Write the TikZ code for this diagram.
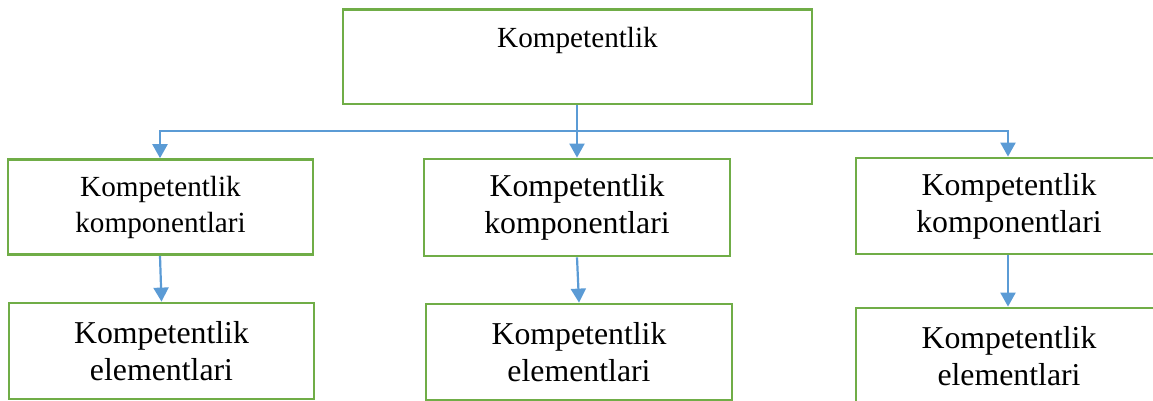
\documentclass[tikz,border=0pt]{standalone}
\usepackage{fontspec}
\setmainfont{Liberation Serif}
\usetikzlibrary{arrows.meta}
\definecolor{boxgreen}{HTML}{70AD47}
\definecolor{arrowblue}{HTML}{5B9BD5}
\tikzset{
  box/.style={draw=boxgreen, line width=2.8pt, fill=white, rectangle, inner sep=0pt,
    minimum width=305pt, minimum height=95pt, align=center},
  smalltxt/.style={font=\fontsize{29.2}{36}\selectfont},
  bigtxt/.style={font=\fontsize{31.8}{37}\selectfont},
  link/.style={draw=arrowblue, line width=2.2pt},
  arr/.style={link, -{Triangle[width=15pt,length=14pt]}},
}
\begin{document}
\begin{tikzpicture}[x=1pt,y=-1pt]
\useasboundingbox (0,0) rectangle (1153,401);
\clip (0,0) rectangle (1153,401);
% top box
\node[box, minimum width=469pt, minimum height=94.5pt] (top) at (577.5,56.75) {};
\node[smalltxt, anchor=base, inner sep=0pt] (topt) at (577.5,48) {Kompetentlik};
% component boxes
\node[box, smalltxt, yshift=-1.6pt] (cL) at (160.5,205.5) {Kompetentlik\\komponentlari};
\node[box, bigtxt, minimum width=306pt, minimum height=97pt] (cM) at (577,207.5) {Kompetentlik\\komponentlari};
\node[box, bigtxt, minimum width=306pt, minimum height=96pt] (cR) at (1009,206) {Kompetentlik\\komponentlari};
% element boxes
\node[box, bigtxt, minimum height=96pt] (eL) at (161.5,351) {Kompetentlik\\elementlari};
\node[box, bigtxt, minimum width=306pt, minimum height=96pt] (eM) at (579,352) {Kompetentlik\\elementlari};
\node[box, bigtxt, minimum width=306pt, minimum height=96pt] (eR) at (1009,356) {Kompetentlik\\elementlari};
% connectors
\coordinate (j) at (577,131);
\draw[link] (top.south -| j) -- (j);
\draw[arr] (j) -- (j |- cM.north);
\draw[arr] (j) -| ([xshift=-0.5pt]cL.north);
\draw[arr] (j) -| ([xshift=-1pt]cR.north);
\draw[arr] ([xshift=-0.5pt]cL.south) -- (eL.north);
\draw[arr] (cM.south) -- (eM.north);
\draw[arr] ([xshift=-1pt]cR.south) -- ([xshift=-1pt]eR.north);
\end{tikzpicture}
\end{document}
